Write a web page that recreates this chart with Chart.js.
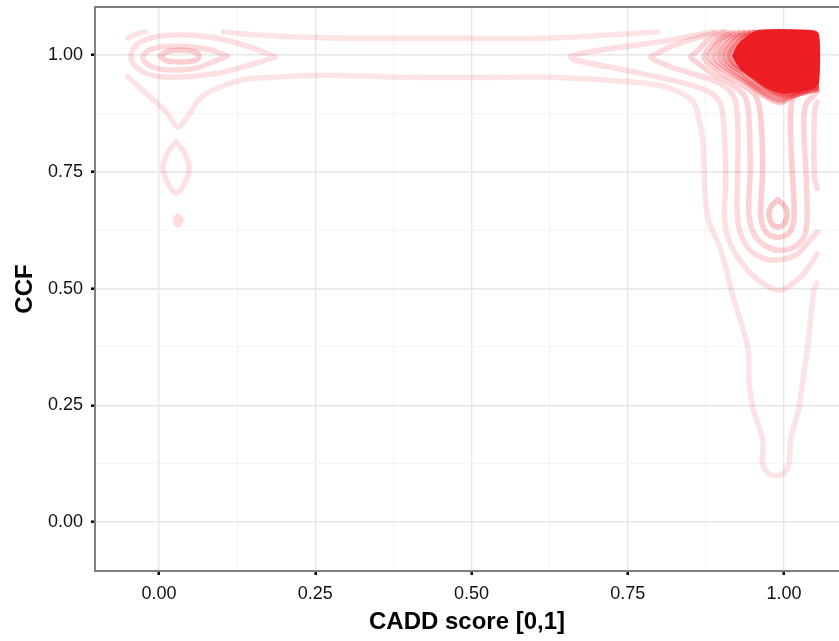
<!DOCTYPE html>
<html>
<head>
<meta charset="utf-8">
<title>CCF vs CADD score</title>
<script src="https://cdn.jsdelivr.net/npm/chart.js@4/dist/chart.umd.min.js"></script>
<style>
  html, body { margin: 0; padding: 0; background: #ffffff; }
  #wrap { width: 839px; height: 641px; }
</style>
</head>
<body>
<div id="wrap"><canvas id="c" width="839" height="641"></canvas></div>
<script>
// Axis breaks and labels
const xMajor = [0, 0.25, 0.5, 0.75, 1];
const xMinor = [0.125, 0.375, 0.625, 0.875];
const xLabels = ['0.00', '0.25', '0.50', '0.75', '1.00'];
const yMajor = [0, 0.25, 0.5, 0.75, 1];
const yMinor = [0.125, 0.375, 0.625, 0.875];
const yLabels = ['0.00', '0.25', '0.50', '0.75', '1.00'];
const xRange = [-0.1026, 1.0881];
const yRange = [-0.105, 1.103];

// 2D density contour paths, [CADD score, CCF]
// lowest level
const lvl1Corner = [[-0.050,1.036],[-0.036,1.045],[-0.022,1.050]];
const lvl1Top = [[0.103,1.050],[0.157,1.043],[0.263,1.037],[0.370,1.036],[0.490,1.036],[0.611,1.036],[0.718,1.043],[0.798,1.050]];
const lvl1Main = [[-0.050,0.953],[-0.014,0.910],[0.013,0.876],[0.029,0.846],[0.045,0.867],[0.066,0.908],[0.093,0.929],[0.130,0.946],[0.157,0.951],[0.263,0.957],[0.370,0.953],[0.490,0.952],[0.611,0.953],[0.718,0.946],[0.798,0.936],[0.835,0.919],[0.856,0.897],[0.864,0.861],[0.870,0.818],[0.872,0.760],[0.878,0.653],[0.899,0.582],[0.920,0.475],[0.942,0.375],[0.944,0.304],[0.950,0.246],[0.966,0.176],[0.966,0.126],[0.974,0.105],[0.987,0.099],[1.000,0.105],[1.008,0.126],[1.011,0.176],[1.024,0.246],[1.032,0.319],[1.038,0.375],[1.048,0.497],[1.053,0.512]];
const lvl1Lens = [[0.027,0.814],[0.040,0.792],[0.048,0.760],[0.042,0.728],[0.027,0.704],[0.013,0.728],[0.006,0.760],[0.014,0.792],[0.027,0.814]];
const lvl1Dot = [[0.030,0.655],[0.035,0.647],[0.030,0.636],[0.026,0.647],[0.030,0.655]];
// level 2
const lvl2Left = [[0.186,0.996],[0.146,1.017],[0.093,1.036],[0.038,1.043],[-0.006,1.039],[-0.034,1.024],[-0.045,0.998],[-0.035,0.972],[-0.006,0.955],[0.038,0.953],[0.093,0.961],[0.146,0.979],[0.186,0.996]];
const lvl2Right = [[0.888,1.050],[0.798,1.028],[0.707,1.011],[0.663,1.000],[0.659,0.996],[0.667,0.989],[0.744,0.968],[0.840,0.940],[0.883,0.919],[0.899,0.893],[0.905,0.818],[0.907,0.732],[0.905,0.647],[0.915,0.593],[0.939,0.544],[0.971,0.507],[0.995,0.497],[1.027,0.525],[1.053,0.574]];
// level 3
const lvl3Left = [[0.109,0.998],[0.082,1.011],[0.058,1.017],[0.029,1.019],[0.002,1.017],[-0.018,1.009],[-0.026,0.996],[-0.019,0.981],[0.002,0.970],[0.029,0.968],[0.058,0.972],[0.085,0.985],[0.109,0.998]];
const lvl3Right = [[0.902,1.050],[0.867,1.039],[0.824,1.021],[0.800,1.006],[0.787,0.996],[0.800,0.985],[0.824,0.972],[0.867,0.955],[0.899,0.938],[0.920,0.910],[0.926,0.861],[0.926,0.754],[0.926,0.647],[0.939,0.593],[0.963,0.567],[0.987,0.561],[1.019,0.572],[1.035,0.593],[1.053,0.621]];
const lvl3Edge = [[1.053,0.900],[1.049,0.880],[1.048,0.800],[1.049,0.740],[1.053,0.715]];
// level 4
const lvl4Left = [[0.002,0.998],[0.010,1.006],[0.021,1.010],[0.034,1.011],[0.046,1.010],[0.058,1.006],[0.064,0.998],[0.058,0.989],[0.046,0.986],[0.034,0.985],[0.021,0.986],[0.010,0.989],[0.002,0.998]];
const lvl4Right = [[0.907,1.050],[0.891,1.041],[0.875,1.028],[0.862,1.009],[0.851,0.996],[0.864,0.981],[0.886,0.959],[0.915,0.938],[0.938,0.910],[0.944,0.861],[0.946,0.754],[0.944,0.657],[0.954,0.612],[0.974,0.589],[0.995,0.582],[1.019,0.591],[1.034,0.617],[1.037,0.668],[1.035,0.754],[1.032,0.839],[1.035,0.893],[1.053,0.921]];
// level 5
const lvl5Right = [[0.913,1.047],[0.893,1.032],[0.880,1.015],[0.872,0.996],[0.880,0.981],[0.902,0.959],[0.931,0.938],[0.955,0.912],[0.963,0.861],[0.966,0.754],[0.963,0.657],[0.971,0.621],[0.990,0.610],[1.008,0.619],[1.016,0.647],[1.014,0.732],[1.011,0.818],[1.011,0.882],[1.016,0.910],[1.035,0.921],[1.053,0.925]];
// level 6: loop at CCF ~ 0.66
const lvl6Loop = [[0.990,0.690],[1.002,0.675],[1.005,0.657],[1.000,0.638],[0.990,0.632],[0.981,0.638],[0.976,0.657],[0.979,0.675],[0.990,0.690]];
// dense peak near (1, 1)
const peakRing1 = [[0.920,1.050],[0.901,1.036],[0.888,1.017],[0.880,0.996],[0.889,0.981],[0.909,0.964],[0.938,0.942],[0.963,0.916],[0.982,0.901],[0.995,0.897],[1.011,0.908],[1.027,0.919],[1.053,0.925]];
const peakRing2 = [[0.928,1.050],[0.909,1.036],[0.896,1.017],[0.888,0.996],[0.897,0.981],[0.918,0.961],[0.947,0.936],[0.973,0.912],[0.995,0.901],[1.014,0.912],[1.053,0.927]];
const peakRing3 = [[0.936,1.050],[0.917,1.036],[0.904,1.017],[0.896,0.998],[0.905,0.981],[0.928,0.959],[0.955,0.931],[0.979,0.912],[0.995,0.906],[1.018,0.914],[1.053,0.929]];
const peakRing4 = [[0.944,1.050],[0.924,1.036],[0.912,1.017],[0.904,0.998],[0.913,0.981],[0.938,0.957],[0.963,0.931],[0.995,0.912],[1.021,0.919],[1.053,0.931]];
const peakRing5 = [[0.952,1.050],[0.933,1.036],[0.920,1.017],[0.912,0.998],[0.921,0.981],[0.946,0.957],[0.971,0.931],[0.995,0.916],[1.024,0.923],[1.053,0.934]];
const peakCore = [[0.920,0.998],[0.928,1.019],[0.941,1.036],[0.960,1.050],[1.040,1.050],[1.053,1.044],[1.053,0.940],[1.045,0.933],[1.027,0.927],[1.000,0.921],[0.976,0.931],[0.954,0.951],[0.933,0.972],[0.920,0.998]];

const RED = [236, 30, 36];
const rgba = (a) => `rgba(${RED[0]},${RED[1]},${RED[2]},${a})`;

function contour(points, alpha, opts) {
  return Object.assign({
    type: 'line',
    data: points.map(p => ({ x: p[0], y: p[1] })),
    showLine: true,
    borderColor: rgba(alpha),
    borderWidth: 5.5,
    borderCapStyle: 'round',
    borderJoinStyle: 'round',
    tension: 0.35,
    pointRadius: 0,
    pointHoverRadius: 0,
    fill: false
  }, opts || {});
}

const datasets = [
  contour(lvl1Corner, 0.12),
  contour(lvl1Top, 0.12),
  contour(lvl1Main, 0.12),
  contour(lvl1Lens, 0.13),
  contour(lvl1Dot, 0.15),
  contour(lvl2Left, 0.14),
  contour(lvl2Right, 0.14),
  contour(lvl3Left, 0.17),
  contour(lvl3Right, 0.16),
  contour(lvl3Edge, 0.16),
  contour(lvl4Left, 0.21),
  contour(lvl4Right, 0.19),
  contour(lvl5Right, 0.21),
  contour(lvl6Loop, 0.25),
  contour(peakRing1, 0.22, { borderWidth: 4.5 }),
  contour(peakRing2, 0.28, { borderWidth: 4.5 }),
  contour(peakRing3, 0.34, { borderWidth: 4.5 }),
  contour(peakRing4, 0.42, { borderWidth: 4.5 }),
  contour(peakRing5, 0.55, { borderWidth: 4.5 }),
  contour(peakCore, 1, { fill: 'shape', backgroundColor: rgba(1), tension: 0.25, borderWidth: 4 })
];

const near = (v, list) => list.some(m => Math.abs(m - v) < 1e-6);
const majorIndex = (v, list) => list.findIndex(m => Math.abs(m - v) < 1e-6);

function axis(range, major, minor, labels, titleText, isX) {
  return {
    type: 'linear',
    position: isX ? 'bottom' : 'left',
    min: range[0],
    max: range[1],
    afterBuildTicks: (scale) => {
      scale.ticks = major.concat(minor).sort((a, b) => a - b).map(v => ({ value: v }));
    },
    afterFit: (scale) => {
      if (isX) scale.height = 70; else scale.width = 95;
      scale.paddingTop = 0;
      scale.paddingBottom = 0;
      scale.paddingLeft = 0;
      scale.paddingRight = 0;
    },
    ticks: {
      autoSkip: false,
      maxRotation: 0,
      padding: 8,
      color: '#111111',
      font: { family: '"Liberation Sans", Arial, Helvetica, sans-serif', size: 18 },
      callback: (value) => {
        const i = majorIndex(value, major);
        return i >= 0 ? labels[i] : '';
      }
    },
    grid: {
      drawTicks: true,
      tickLength: 4,
      color: (ctx) => (ctx.tick && near(ctx.tick.value, major)) ? '#e6e6e6' : '#f4f4f4',
      lineWidth: (ctx) => (ctx.tick && near(ctx.tick.value, major)) ? 1.4 : 1,
      tickColor: (ctx) => (ctx.tick && near(ctx.tick.value, major)) ? '#000000' : 'rgba(0,0,0,0)',
      tickWidth: 2.5
    },
    border: { display: false },
    title: {
      display: true,
      text: titleText,
      color: '#000000',
      font: { family: '"Liberation Sans", Arial, Helvetica, sans-serif', size: 24, weight: 'bold' },
      padding: isX ? { top: 0, bottom: 4 } : { top: 11, bottom: 0 }
    }
  };
}

// panel frame on the left, top and bottom sides
const panelFrame = {
  id: 'panelFrame',
  afterDatasetsDraw(chart) {
    const { ctx, chartArea: a } = chart;
    ctx.save();
    ctx.strokeStyle = '#7f7f7f';
    ctx.lineWidth = 2;
    ctx.beginPath();
    ctx.moveTo(a.right + 2, a.top);
    ctx.lineTo(a.left, a.top);
    ctx.lineTo(a.left, a.bottom);
    ctx.lineTo(a.right + 2, a.bottom);
    ctx.stroke();
    ctx.restore();
  }
};

new Chart(document.getElementById('c'), {
  type: 'scatter',
  data: { datasets },
  options: {
    responsive: false,
    animation: false,
    devicePixelRatio: 1,
    layout: { padding: { top: 7, right: 0, bottom: 0, left: 0 } },
    plugins: { legend: { display: false }, tooltip: { enabled: false } },
    events: [],
    scales: {
      x: axis(xRange, xMajor, xMinor, xLabels, 'CADD score [0,1]', true),
      y: axis(yRange, yMajor, yMinor, yLabels, 'CCF', false)
    }
  },
  plugins: [panelFrame]
});
</script>
</body>
</html>
